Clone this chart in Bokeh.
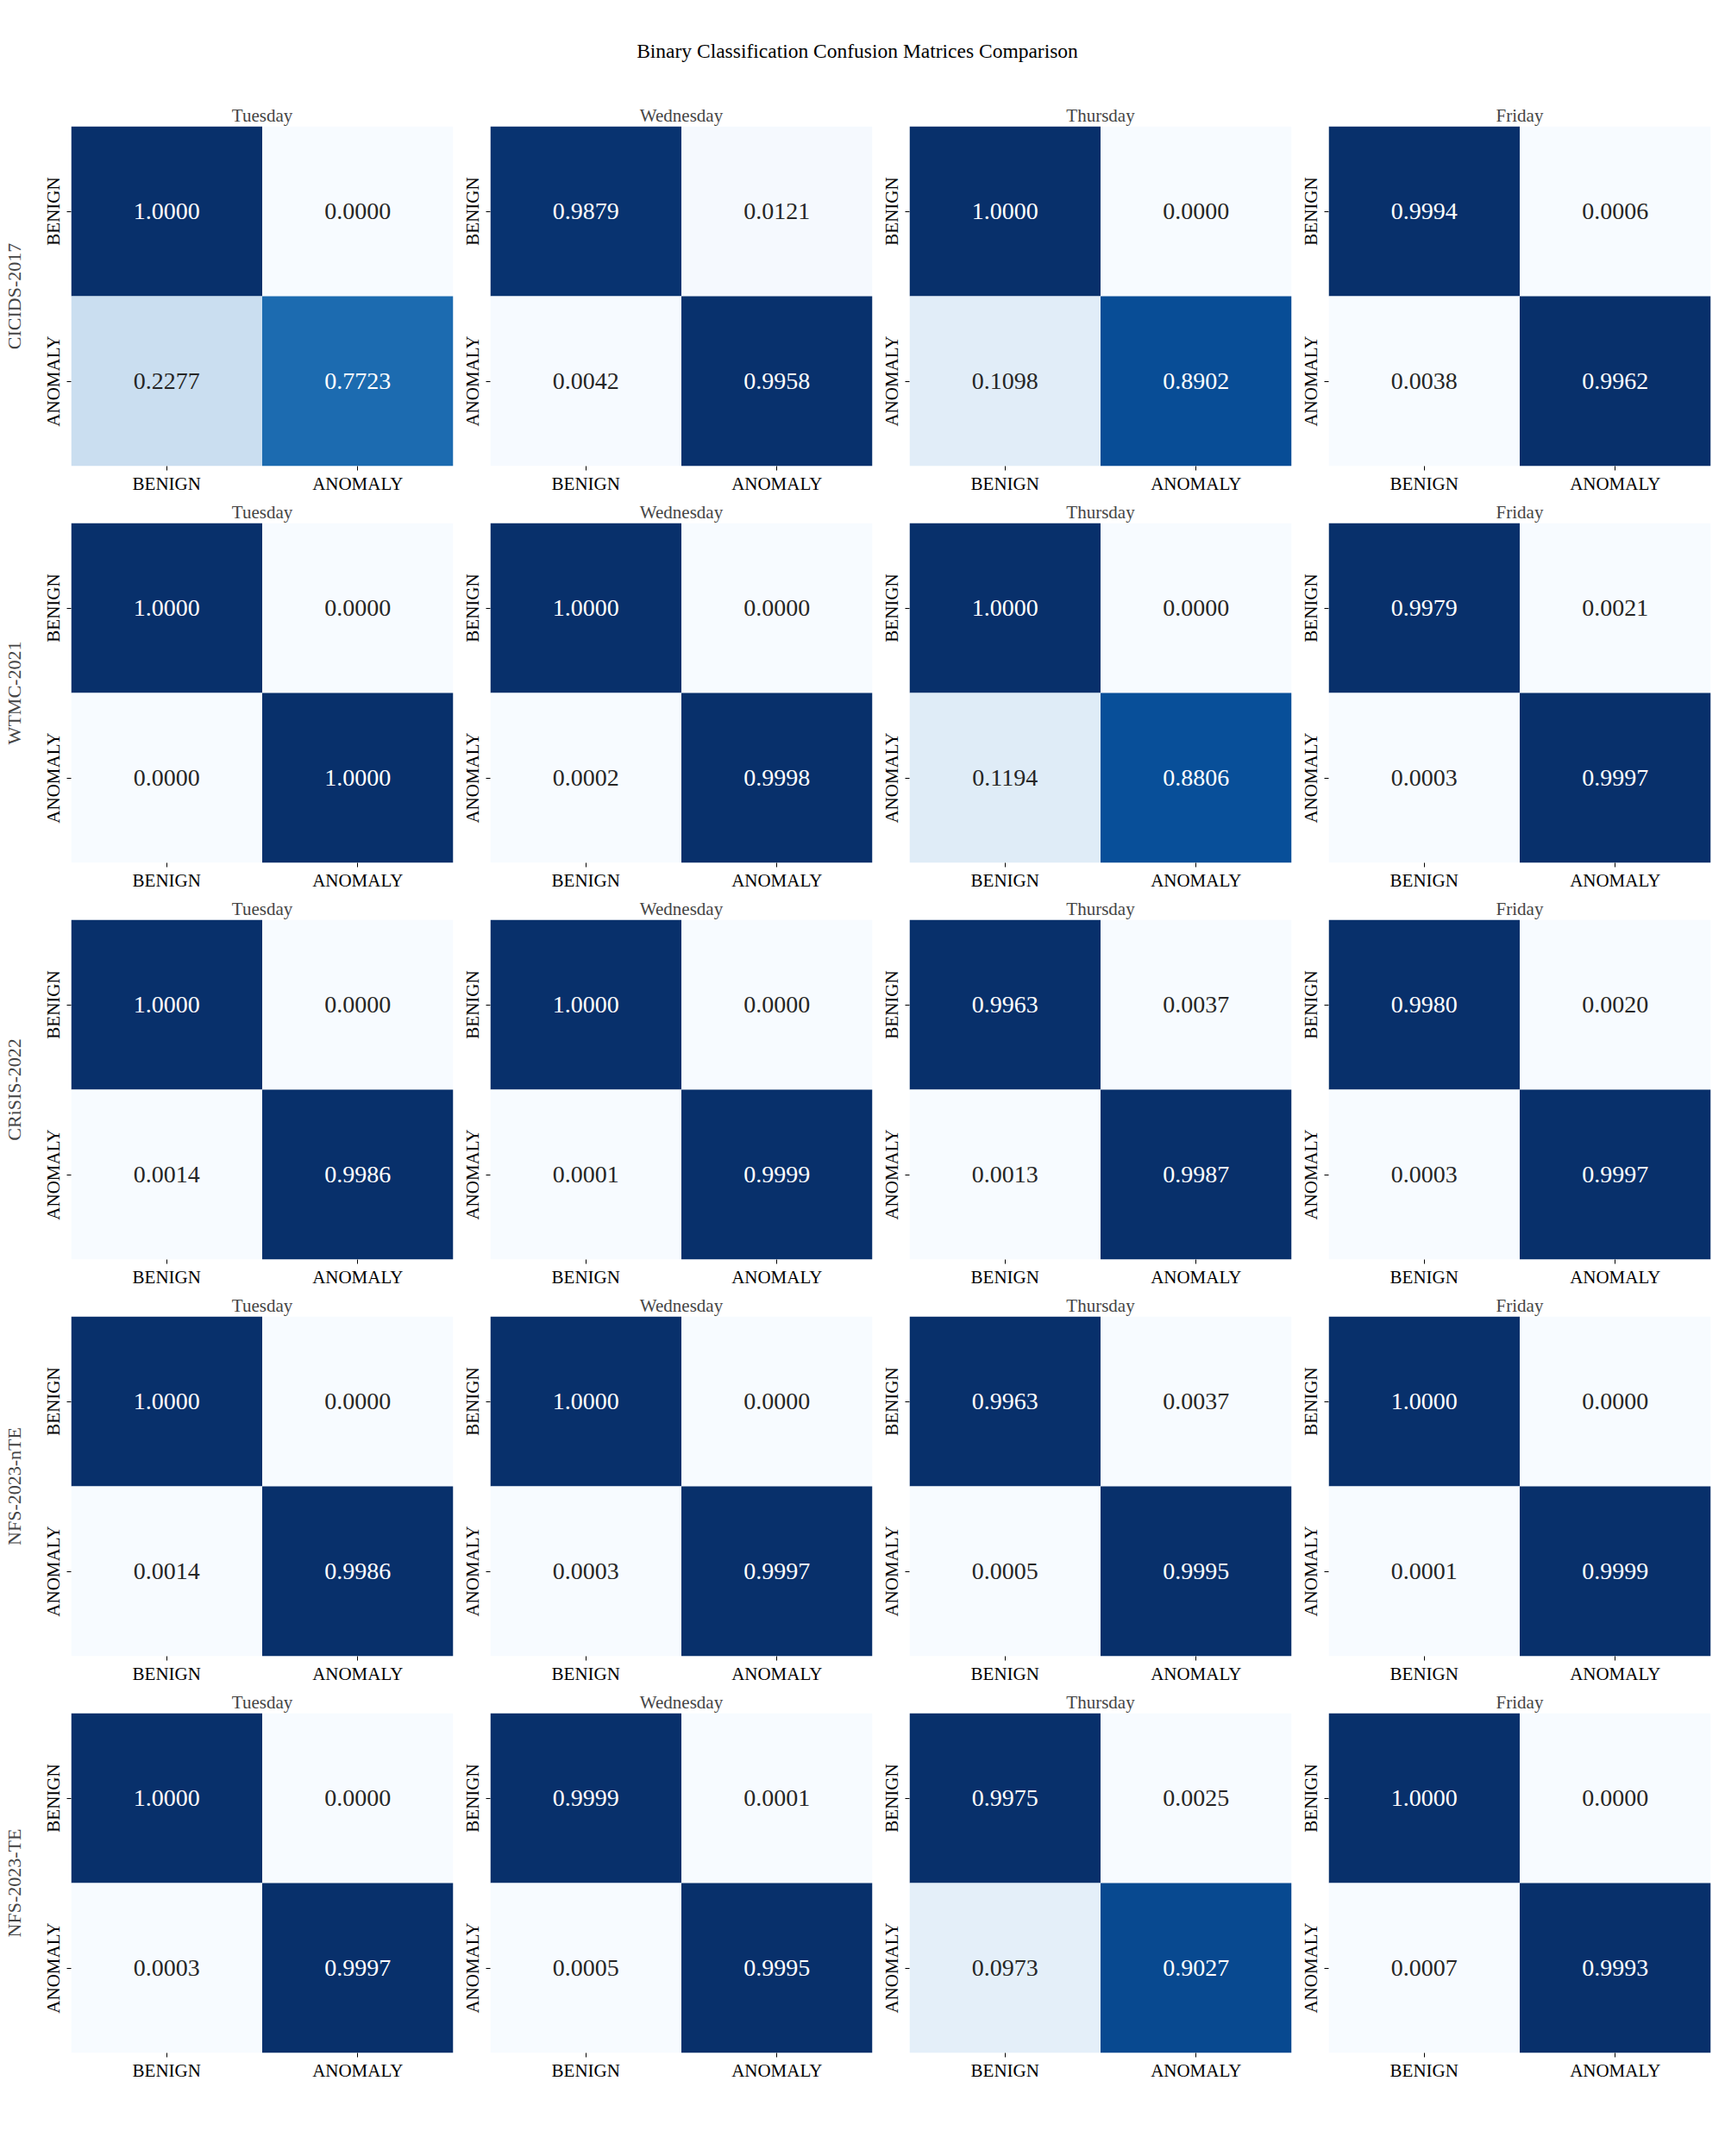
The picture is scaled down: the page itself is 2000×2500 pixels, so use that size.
import numpy as np
from bokeh.plotting import figure
from bokeh.layouts import gridplot, column
from bokeh.models import ColumnDataSource, LinearColorMapper, FactorRange, Range1d
from bokeh.palettes import Blues256
from bokeh.core.properties import value
from bokeh.embed import file_html
from bokeh.resources import INLINE

main_title = "Binary Classification Confusion Matrices Comparison"
datasets = ["CICIDS-2017", "WTMC-2021", "CRiSIS-2022", "NFS-2023-nTE", "NFS-2023-TE"]
days = ["Tuesday", "Wednesday", "Thursday", "Friday"]
classes = ["BENIGN", "ANOMALY"]

# each day: [true BENIGN->pred BENIGN, true BENIGN->pred ANOMALY,
#            true ANOMALY->pred BENIGN, true ANOMALY->pred ANOMALY]
cicids_2017 = [[1.0000, 0.0000, 0.2277, 0.7723],
               [0.9879, 0.0121, 0.0042, 0.9958],
               [1.0000, 0.0000, 0.1098, 0.8902],
               [0.9994, 0.0006, 0.0038, 0.9962]]
wtmc_2021 = [[1.0000, 0.0000, 0.0000, 1.0000],
             [1.0000, 0.0000, 0.0002, 0.9998],
             [1.0000, 0.0000, 0.1194, 0.8806],
             [0.9979, 0.0021, 0.0003, 0.9997]]
crisis_2022 = [[1.0000, 0.0000, 0.0014, 0.9986],
               [1.0000, 0.0000, 0.0001, 0.9999],
               [0.9963, 0.0037, 0.0013, 0.9987],
               [0.9980, 0.0020, 0.0003, 0.9997]]
nfs_2023_nte = [[1.0000, 0.0000, 0.0014, 0.9986],
                [1.0000, 0.0000, 0.0003, 0.9997],
                [0.9963, 0.0037, 0.0005, 0.9995],
                [1.0000, 0.0000, 0.0001, 0.9999]]
nfs_2023_te = [[1.0000, 0.0000, 0.0003, 0.9997],
               [0.9999, 0.0001, 0.0005, 0.9995],
               [0.9975, 0.0025, 0.0973, 0.9027],
               [1.0000, 0.0000, 0.0007, 0.9993]]

matrices = [cicids_2017, wtmc_2021, crisis_2022, nfs_2023_nte, nfs_2023_te]

FONT = "Liberation Serif"


def hex_to_rgb(h):
    h = h.lstrip("#")
    return [int(h[i:i + 2], 16) / 255.0 for i in (0, 2, 4)]


def rel_lum(h):
    rgb = np.array(hex_to_rgb(h))
    rgb = np.where(rgb <= 0.03928, rgb / 12.92, ((rgb + 0.055) / 1.055) ** 2.4)
    return 0.2126 * rgb[0] + 0.7152 * rgb[1] + 0.0722 * rgb[2]


palette = list(Blues256)
if rel_lum(palette[0]) < rel_lum(palette[-1]):
    palette = palette[::-1]  # make it light -> dark
mapper = LinearColorMapper(palette=palette, low=0.0, high=1.0)

FW, FH = 443, 394
LB0, LB = 81, 38
figs = []
for r, ds in enumerate(datasets):
    row = []
    for c, day in enumerate(days):
        vals = matrices[r][c]
        xs = [classes[0], classes[1], classes[0], classes[1]]
        ys = [classes[0], classes[0], classes[1], classes[1]]
        labels = ["%.4f" % v for v in vals]
        tcs = []
        for v in vals:
            idx = int(round(v * (len(palette) - 1)))
            tcs.append("#262626" if rel_lum(palette[idx]) > 0.408 else "#ffffff")
        src = ColumnDataSource(dict(x=xs, y=ys, v=vals, label=labels, tc=tcs))
        p = figure(x_range=FactorRange(*classes, range_padding=0),
                   y_range=FactorRange(classes[1], classes[0], range_padding=0),
                   frame_width=FW, frame_height=FH,
                   output_backend="svg", toolbar_location=None,
                   min_border_left=LB0 if c == 0 else LB,
                   min_border_right=5, min_border_top=30, min_border_bottom=36,
                   title=day)
        p.rect(x="x", y="y", width=1, height=1, source=src,
               fill_color={"field": "v", "transform": mapper}, line_color=None)
        p.text(x="x", y="y", text="label", source=src, text_align="center",
               text_baseline="middle", text_font=value(FONT),
               text_font_size="28px", text_color="tc")
        p.title.align = "center"
        p.title.text_font = FONT
        p.title.text_font_size = "21px"
        p.title.text_font_style = "normal"
        p.title.standoff = 2
        p.outline_line_color = None
        p.grid.grid_line_color = None
        for ax in (p.xaxis, p.yaxis):
            ax.axis_line_color = None
            ax.major_tick_out = 5
            ax.major_tick_in = 0
            ax.major_tick_line_color = "black"
            ax.minor_tick_line_color = None
            ax.major_label_text_font = FONT
            ax.major_label_text_font_size = "21px"
            ax.major_label_text_color = "black"
        p.xaxis.major_label_standoff = 3
        p.yaxis.major_label_standoff = 4
        p.yaxis.major_label_orientation = "vertical"
        if c == 0:
            p.yaxis.axis_label = ds
            p.yaxis.axis_label_text_font = FONT
            p.yaxis.axis_label_text_font_size = "22px"
            p.yaxis.axis_label_text_font_style = "normal"
            p.yaxis.axis_label_standoff = 18
        row.append(p)
    figs.append(row)

grid = gridplot(figs, toolbar_location=None)

total_w = LB0 + FW + 5 + 3 * (LB + FW + 5)
header = figure(x_range=Range1d(0, 1), y_range=Range1d(0, 1),
                frame_width=total_w, frame_height=116,
                min_border=0, output_backend="svg", toolbar_location=None)
header.text(x=[0.5], y=[0.5], text=[main_title], text_align="center",
            text_baseline="middle", text_font=value(FONT),
            text_font_size="23.5px", text_color="black")
header.axis.visible = False
header.grid.visible = False
header.outline_line_color = None

layout = column(header, grid)
open("out.html", "w").write(file_html(layout, INLINE))
